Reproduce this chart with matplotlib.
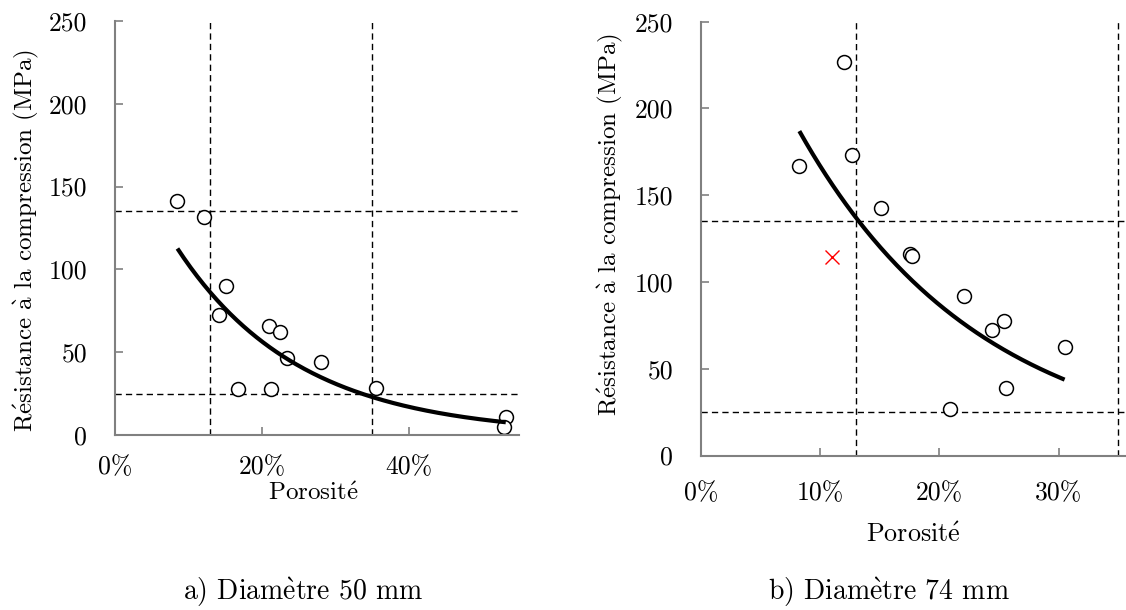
import numpy as np
import matplotlib
matplotlib.use("Agg")
import matplotlib.pyplot as plt
from matplotlib.ticker import PercentFormatter

plt.rcParams['font.family'] = ['cmr10', 'DejaVu Serif']
plt.rcParams['axes.unicode_minus'] = False
plt.rcParams['mathtext.fontset'] = 'cm'

# a) Diamètre 50 mm
por_50 = [0.085, 0.1215, 0.151, 0.141, 0.167, 0.2095, 0.225, 0.213, 0.234, 0.281, 0.356, 0.532, 0.530]
res_50 = [141.3, 131.4, 90.0, 72.5, 28.0, 66.0, 62.0, 28.0, 46.3, 43.9, 28.6, 10.9, 5.0]

# b) Diamètre 74 mm
por_74 = [0.1197, 0.0825, 0.127, 0.151, 0.175, 0.177, 0.221, 0.244, 0.254, 0.305, 0.256, 0.209]
res_74 = [226.9, 167.1, 172.9, 142.9, 116.0, 115.0, 92.1, 72.5, 77.5, 62.3, 38.8, 26.7]
por_74_exclu = [0.110]
res_74_exclu = [114.4]

# seuils (lignes pointillées)
seuils_por = [0.13, 0.35]
seuils_res = [135, 25]

# textes (accents via mathtext, cmr10 n'a pas é/è/à)
E_AIGU = r'$\acute{\mathrm{e}}$'
E_GRAVE = r'$\grave{\mathrm{e}}$'
A_GRAVE = r'$\grave{\mathrm{a}}$'
txt_x = 'Porosit' + E_AIGU
txt_y = 'R' + E_AIGU + 'sistance ' + A_GRAVE + ' la compression (MPa)'
txt_a = 'a) Diam' + E_GRAVE + 'tre 50 mm'
txt_b = 'b) Diam' + E_GRAVE + 'tre 74 mm'

W, H = 1126, 610
fig = plt.figure(figsize=(W / 100, H / 100), dpi=100)

GRIS = '#808080'
FS_TICK = 18.5
FS_LAB = 18


def style_axes(ax, xpad):
    for s in ['top', 'right']:
        ax.spines[s].set_visible(False)
    for s in ['left', 'bottom']:
        ax.spines[s].set_color(GRIS)
        ax.spines[s].set_linewidth(1.5)
    ax.tick_params(direction='in', length=6, width=1.2, color=GRIS, labelsize=FS_TICK)
    ax.tick_params(axis='y', pad=20)
    ax.tick_params(axis='x', pad=xpad)
    ax.xaxis.set_major_formatter(PercentFormatter(1.0, decimals=0))


def tendance(ax, x, y):
    # tendance exponentielle (comme Excel)
    x = np.asarray(x)
    b, ln_a = np.polyfit(x, np.log(y), 1)
    xs = np.linspace(x.min(), x.max(), 200)
    ax.plot(xs, np.exp(ln_a) * np.exp(b * xs), color='black', lw=3,
            solid_capstyle='butt', zorder=3)


def seuils(ax):
    for v in seuils_por:
        ax.axvline(v, color='black', lw=1, dashes=(4.5, 3), zorder=1, clip_on=False)
    for h in seuils_res:
        ax.axhline(h, color='black', lw=1, dashes=(4.5, 3), zorder=1)


# --- graphique a ---
ax1 = fig.add_axes([115 / W, (H - 435) / H, (519 - 115) / W, (435 - 21) / H])
style_axes(ax1, 15)
seuils(ax1)
ax1.plot(por_50, res_50, 'o', mfc='white', mec='black', ms=10, mew=1.1, zorder=2)
tendance(ax1, por_50, res_50)
ax1.set_xlim(0, 0.55)
ax1.set_ylim(0, 250)
ax1.set_xticks([0, 0.2, 0.4])
ax1.set_yticks([0, 50, 100, 150, 200, 250])
ax1.set_xlabel(txt_x, fontsize=FS_LAB)
ax1.set_ylabel(txt_y, fontsize=FS_LAB)
ax1.xaxis.set_label_coords(0.49, -0.113)
ax1.yaxis.set_label_coords(-0.183, 0.47)

# --- graphique b ---
ax2 = fig.add_axes([701 / W, (H - 455.5) / H, (1126 - 701) / W, (455.5 - 21.7) / H])
style_axes(ax2, 19)
seuils(ax2)
ax2.plot(por_74, res_74, 'o', mfc='white', mec='black', ms=10, mew=1.1, zorder=2)
ax2.plot(por_74_exclu, res_74_exclu, 'x', color='red', ms=10, mew=1, zorder=2)
# la courbe de tendance inclut le point exclu
tendance(ax2, por_74 + por_74_exclu, res_74 + res_74_exclu)
ax2.set_xlim(0, 0.3565)
ax2.set_ylim(0, 250)
ax2.set_xticks([0, 0.1, 0.2, 0.3])
ax2.set_yticks([0, 50, 100, 150, 200, 250])
ax2.set_xlabel(txt_x, fontsize=18.8)
ax2.set_ylabel(txt_y, fontsize=FS_LAB)
ax2.xaxis.set_label_coords(0.50, -0.154)
ax2.yaxis.set_label_coords(-0.179, 0.532)

fig.text(303 / W, 1 - 592 / H, txt_a, fontsize=20, ha='center', va='center')
fig.text(889 / W, 1 - 592 / H, txt_b, fontsize=20, ha='center', va='center')

fig.savefig('out.png', dpi=100)
